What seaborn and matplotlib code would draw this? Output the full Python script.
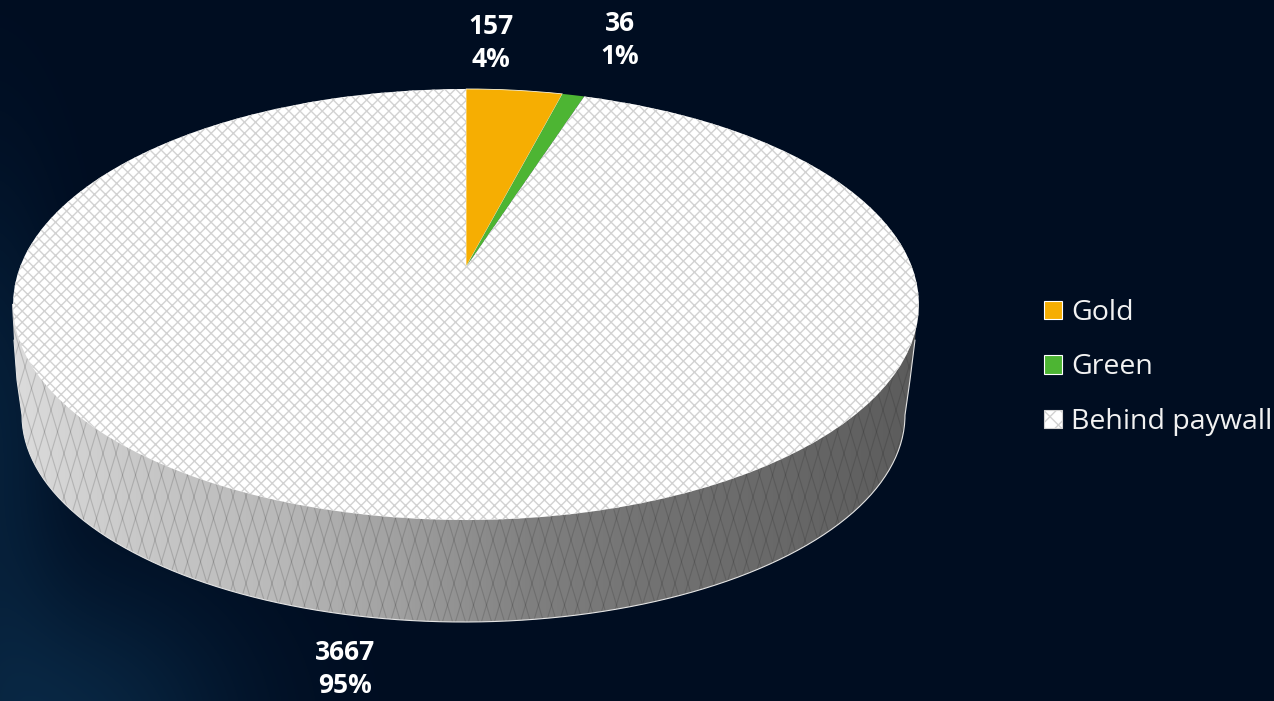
import numpy as np
import matplotlib
matplotlib.use("Agg")
import matplotlib.pyplot as plt
import seaborn as sns
from matplotlib.collections import LineCollection
from matplotlib.colors import LinearSegmentedColormap
from matplotlib.patches import PathPatch
from matplotlib.path import Path
from matplotlib.transforms import Transform

categories = ["Gold", "Green", "Behind paywall"]
counts = [157, 36, 3667]
percents = [4, 1, 95]

colors = ["#f6ae02", "#4db533", "#ffffff"]
W, H = 1274, 701
label_pos = [(491, 43), (620, 40), (345, 669)]

sns.set_theme(style="white", rc={"hatch.linewidth": 1.0, "hatch.color": "#d2d2d2"})
plt.rcParams["font.family"] = ["Open Sans", "DejaVu Sans"]


class TiltedDisc(Transform):
    # unit circle -> top face of the disc, seen in perspective (pixel coords)
    input_dims = output_dims = 2

    def transform_non_affine(self, xy):
        xy = np.asarray(xy)
        w = 1 + 0.174 * xy[:, 1]
        return np.column_stack([466 + 446 * xy[:, 0] / w, 267 - 209 * xy[:, 1] / w])


fig = plt.figure(figsize=(W / 100, H / 100), dpi=100)
ax = fig.add_axes([0, 0, 1, 1])

# background
yy, xx = np.mgrid[0:H, 0:W]
glow = 0.55 * np.exp(-((xx - 70) / 170) ** 2 - ((yy - 730) / 150) ** 2)
glow += 0.4 * np.exp(-((xx + 10) / 70) ** 2 - ((yy - 430) / 240) ** 2)
bg_map = LinearSegmentedColormap.from_list("bg", ["#000d21", "#0f3a5c"])
ax.imshow(glow, cmap=bg_map, vmin=0, vmax=1, extent=(0, W, H, 0), aspect="auto", zorder=0)

# side of the disc
t = np.linspace(np.pi, 0, 200)
low_x = 463.5 + 441.5 * np.cos(t)
low_y = 415 + 207 * np.sin(t)
edge_x = np.r_[12, 14, 17, low_x, 910, 915, 918]
edge_y = np.r_[304, 340, 380, low_y, 380, 340, 304]
verts = list(zip(edge_x, edge_y)) + [(466, 200)]
body = Path(verts + [verts[0]], closed=False)
body_clip = PathPatch(body, transform=ax.transData, fc="none", ec="none")
ax.add_patch(body_clip)
side_map = LinearSegmentedColormap.from_list(
    "side", ["#dcdcdc", "#c8c8c8", "#bababa", "#a0a0a0", "#808080", "#727272", "#686868", "#5c5c5c"])
im = ax.imshow(np.linspace(0, 1, 256)[None, :], cmap=side_map, extent=(12, 918, 640, 280),
               aspect="auto", zorder=1)
im.set_clip_path(body_clip)

offsets = np.arange(-300, 1500, 13)
segs = [[(o, 280), (o + s * 0.3 * 360, 640)] for o in offsets for s in (-1, 1)]
lines = LineCollection(segs, colors="k", linewidths=0.8, alpha=0.17, zorder=2)
ax.add_collection(lines)
lines.set_clip_path(body_clip)
ax.plot(edge_x[1:-1], edge_y[1:-1], color="#e4e4e4", lw=0.8, zorder=2.5)

# top of the disc
wedges, _ = ax.pie(counts, colors=colors, startangle=90, counterclock=False)
disc = TiltedDisc() + ax.transData
for w, c in zip(wedges, colors):
    w.set_transform(disc)
    w.set_zorder(3)
    w.set_clip_on(False)
    w.set_linewidth(0)
wedges[2].set_hatch("xxx")
wedges[2].set_edgecolor("#d2d2d2")
wedges[0].set_edgecolor("#fff6d8")
wedges[0].set_linewidth(0.6)

ax.set_aspect("auto")
ax.set_xlim(0, W)
ax.set_ylim(H, 0)
ax.axis("off")

for (x, y), n, p in zip(label_pos, counts, percents):
    ax.text(x, y, f"{n}\n{p}%", color="white", fontsize=19, fontweight="bold",
            ha="center", va="center", linespacing=1.25, zorder=5)

leg = ax.legend(wedges, categories, loc="upper left", bbox_to_anchor=(1044 / W, 1 - 299 / H),
                bbox_transform=fig.transFigure, frameon=False, fontsize=20.5,
                labelcolor="#f2f2f2", handlelength=0.62, handleheight=0.62,
                handletextpad=0.33, labelspacing=0.93, borderpad=0, borderaxespad=0)
for h in leg.get_patches():
    h.set_edgecolor("white")
    h.set_linewidth(0.8)
    h.set_hatch(None)
leg.get_patches()[2].set_hatch("xx")
leg.get_patches()[2].set_edgecolor("#d2d2d2")

fig.savefig("out.png", dpi=100, facecolor="#000d21")
